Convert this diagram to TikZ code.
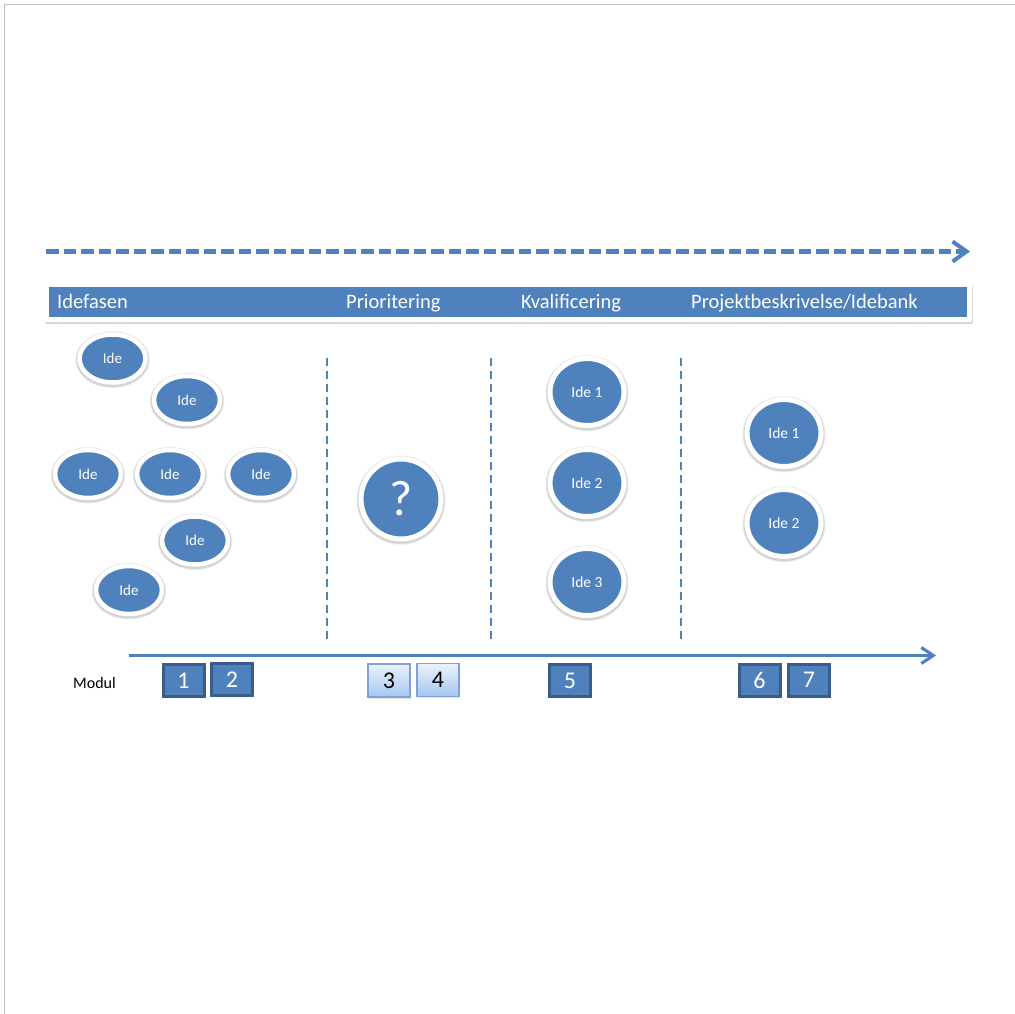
\documentclass[tikz,border=0pt]{standalone}
\usepackage{fontspec}
\setmainfont{Carlito}
\usetikzlibrary{shapes.geometric,shadows,arrows.meta}
\definecolor{ideblue}{HTML}{4F81BD}
\definecolor{darkblue}{HTML}{385D8A}
\definecolor{lighttop}{HTML}{EAF2FD}
\definecolor{lightbot}{HTML}{A6C6EF}
\definecolor{lightedge}{HTML}{7FA2D3}
\definecolor{pageedge}{HTML}{C0C0C0}
\tikzset{
  halo/.style={preaction={draw=black, draw opacity=0.10, line width=#1,
      transform canvas={yshift=-1.2pt}},
    preaction={draw=black, draw opacity=0.08, line width=#1+2pt,
      transform canvas={yshift=-1.2pt}}},
  idesmall/.style={ellipse, fill=ideblue, draw=white, line width=4.5pt,
    minimum width=66pt, minimum height=48pt, inner sep=0pt, text=white,
    font=\fontsize{15}{16}\selectfont, halo=6.5pt},
  idebig/.style={ellipse, fill=ideblue, draw=white, line width=5pt,
    minimum width=74pt, minimum height=67pt, inner sep=0pt, text=white,
    font=\fontsize{15.5}{17}\selectfont, halo=7pt},
  qcircle/.style={circle, fill=ideblue, draw=white, line width=5pt,
    minimum size=80pt, inner sep=0pt, text=white,
    font=\fontsize{50}{52}\selectfont, halo=7pt},
  modbox/.style={rectangle, fill=ideblue, draw=darkblue, line width=3pt,
    minimum width=41pt, minimum height=32pt, inner sep=0pt, text=white,
    font=\fontsize{24}{26}\selectfont},
  lightbox/.style={rectangle, top color=lighttop, bottom color=lightbot,
    draw=lightedge, line width=1.2pt, minimum width=42pt, minimum height=33pt,
    inner sep=0pt, text=black, font=\fontsize{24}{26}\selectfont,
    drop shadow={shadow xshift=0.8pt, shadow yshift=-1.5pt, opacity=0.2}},
  headtext/.style={anchor=base west, text=white, inner sep=0pt,
    font=\fontsize{20.5}{22}\selectfont},
  phaseline/.style={ideblue, line width=2.5pt, dash pattern=on 8pt off 5pt},
}
\begin{document}
\begin{tikzpicture}[x=1pt,y=-1pt]
\useasboundingbox (0,0) rectangle (1015,1014);
\fill[white] (0,0) rectangle (1015,1014);
% page edge
\draw[pageedge, line width=1.5pt] (4.5,1014) -- (4.5,4.5) -- (1015,4.5);

% top dashed arrow
\coordinate (ta) at (46,251.5);
\coordinate (tb) at (970,251.5);
\draw[ideblue, line width=4.5pt, dash pattern=on 12.5pt off 5pt,
  -{Straight Barb[length=14pt,width=20pt,line width=4pt]}] (ta) -- (tb);

% header bar
\node[rectangle, fill=white, minimum width=928pt, minimum height=40pt, inner sep=0pt,
  rounded corners=2pt,
  drop shadow={shadow xshift=0.8pt, shadow yshift=-2pt, opacity=0.3}] (hdrback) at (508,302) {};
\node[rectangle, fill=ideblue, minimum width=918pt, minimum height=30pt, inner sep=0pt] (hdr) at (508,302) {};
\node[headtext] (h1) at (57,308.5) {Idefasen};
\node[headtext] (h2) at (346,308.5) {Prioritering};
\node[headtext] (h3) at (521,308.5) {Kvalificering};
\node[headtext] (h4) at (691,308.5) {Projektbeskrivelse/Idebank};

% phase separators
\coordinate (s1a) at (327,358); \coordinate (s1b) at (327,639);
\coordinate (s2a) at (491,358); \coordinate (s2b) at (491,639);
\coordinate (s3a) at (681,358); \coordinate (s3b) at (681,639);
\draw[phaseline] (s1a) -- (s1b);
\draw[phaseline] (s2a) -- (s2b);
\draw[phaseline] (s3a) -- (s3b);

% idea ellipses
\node[idesmall] (i1) at (112.5,358.5) {Ide};
\node[idesmall] (i2) at (187,400) {Ide};
\node[idesmall] (i3) at (88,474) {Ide};
\node[idesmall] (i4) at (170,474) {Ide};
\node[idesmall] (i5) at (261,474) {Ide};
\node[idesmall] (i6) at (195,540.5) {Ide};
\node[idesmall] (i7) at (129,590) {Ide};

% question
\node[qcircle] (q) at (401,499) {?};

% kvalificering
\node[idebig] (k1) at (587,392) {Ide 1};
\node[idebig] (k2) at (587,483) {Ide 2};
\node[idebig] (k3) at (587,582) {Ide 3};

% projekt
\node[idebig] (p1) at (784,433) {Ide 1};
\node[idebig] (p2) at (784,523) {Ide 2};

% bottom arrow
\coordinate (ba) at (129,655.5);
\coordinate (bb) at (936,655.5);
\draw[ideblue, line width=3pt,
  -{Straight Barb[length=12pt,width=16pt,line width=3pt]}] (ba) -- (bb);

% modules
\node[anchor=west, inner sep=0pt, font=\fontsize{16}{18}\selectfont] (modul) at (73,683) {Modul};
\node[modbox] (m1) at (183.5,680.5) {1};
\node[modbox] (m2) at (232,679.5) {2};
\node[lightbox] (m3) at (389,680.5) {3};
\node[lightbox] (m4) at (438,680) {4};
\node[modbox] (m5) at (570,680.5) {5};
\node[modbox] (m6) at (759.5,680) {6};
\node[modbox] (m7) at (809,680) {7};
\end{tikzpicture}
\end{document}
